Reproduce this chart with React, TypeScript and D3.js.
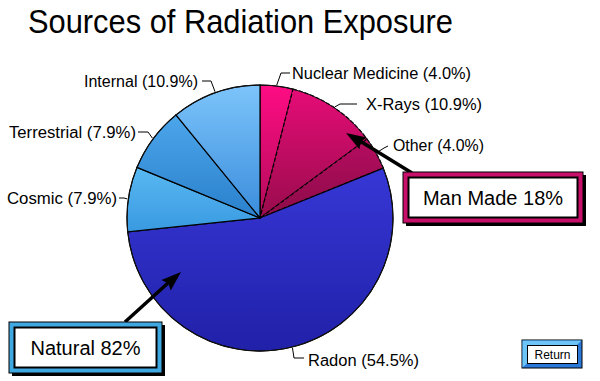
import React from "react";
import * as d3 from "d3";

const categories = [
  "Nuclear Medicine",
  "X-Rays",
  "Other",
  "Radon",
  "Cosmic",
  "Terrestrial",
  "Internal",
];
const values = [4.0, 10.9, 4.0, 54.5, 7.9, 7.9, 10.9];
const groups = ["man", "man", "man", "radon", "nat", "nat", "nat"];
const groupTitles = ["Man Made 18%", "Natural 82%"];
const title = "Sources of Radiation Exposure";

const W = 600;
const H = 381;
const cx = 260;
const cy = 218;
const R = 133;

// label layout: text position, anchor, elbow, end-of-leader near text
const labelLayout = [
  { x: 292, y: 73, anchor: "start", elbow: [281, 73], end: [290, 73] },
  { x: 366, y: 104, anchor: "start", elbow: [340, 104], end: [357, 104] },
  { x: 393, y: 145, anchor: "start", elbow: [384, 148], end: [388, 146] },
  { x: 308, y: 360, anchor: "start", elbow: [294, 358], end: [304, 358] },
  { x: 117, y: 198, anchor: "end", elbow: [124, 198], end: [119, 198] },
  { x: 136, y: 132, anchor: "end", elbow: [148, 132], end: [138, 132] },
  { x: 198, y: 81, anchor: "end", elbow: [211, 81], end: [202, 81] },
];
const labelWidths = [179, 116, 91, 111, 110, 127, 114];

// gradient stops per slice: [yTop, yBottom, colorTop, colorBottom] (page coords)
const sliceGradients: [number, number, string, string][] = [
  [85, 218, "#ff0c84", "#b00c58"],
  [85, 218, "#e80c78", "#980c4c"],
  [120, 218, "#c00c66", "#8c0c48"],
  [160, 353, "#3838d8", "#2020a8"],
  [160, 235, "#5cbcf4", "#3898e0"],
  [110, 218, "#4ea8ec", "#2a80cc"],
  [85, 218, "#7cc4fa", "#3a8cdc"],
];

export default function App() {
  const data = categories.map((c, i) => ({ name: c, value: values[i], group: groups[i] }));
  const pie = d3.pie<any>().sort(null).value((d) => d.value).startAngle(0).endAngle(2 * Math.PI);
  const arcs = pie(data);
  const arc = d3.arc<any>().innerRadius(0).outerRadius(R);
  const fmt = d3.format(".1f");
  const font = "'Liberation Sans', Arial, Helvetica, sans-serif";

  const edgePoint = (a: any, r: number) => {
    const m = (a.startAngle + a.endAngle) / 2;
    return [cx + r * Math.sin(m), cy - r * Math.cos(m)];
  };

  const arrowHead = (x1: number, y1: number, x2: number, y2: number, len: number, wid: number) => {
    const ang = Math.atan2(y2 - y1, x2 - x1);
    const bx = x2 - len * Math.cos(ang);
    const by = y2 - len * Math.sin(ang);
    const px = -Math.sin(ang) * wid / 2;
    const py = Math.cos(ang) * wid / 2;
    return `M${x2},${y2}L${bx + px},${by + py}L${bx + 3 * Math.cos(ang)},${by + 3 * Math.sin(ang)}L${bx - px},${by - py}Z`;
  };

  const box = (x0: number, y0: number, x1: number, y1: number, band: string, text: string) => (
    <g>
      <rect x={x0 + 3} y={y0 + 3} width={x1 - x0} height={y1 - y0} fill="#000" />
      <rect x={x0} y={y0} width={x1 - x0} height={y1 - y0} fill={band} stroke="#000" strokeWidth={1} />
      <rect x={x0 + 5.5} y={y0 + 5.5} width={x1 - x0 - 11} height={y1 - y0 - 11} fill="#fff" stroke="#000" strokeWidth={2} />
      <text
        x={(x0 + x1) / 2}
        y={(y0 + y1) / 2 + 7}
        textAnchor="middle"
        fontFamily={font}
        fontSize={20}
        fill="#000"
      >
        {text}
      </text>
    </g>
  );

  return (
    <svg
      width={W}
      height={H}
      viewBox={`0 0 ${W} ${H}`}
      style={{ position: "absolute", left: 0, top: 0, background: "#fff" }}
    >
      <defs>
        {sliceGradients.map((g, i) => (
          <linearGradient
            key={i}
            id={`gSlice${i}`}
            gradientUnits="userSpaceOnUse"
            x1={0}
            y1={g[0] - cy}
            x2={0}
            y2={g[1] - cy}
          >
            <stop offset="0" stopColor={g[2]} />
            <stop offset="1" stopColor={g[3]} />
          </linearGradient>
        ))}
      </defs>

      <text
        x={28}
        y={33}
        fontFamily={font}
        fontSize={33}
        textLength={425}
        lengthAdjust="spacingAndGlyphs"
        fill="#000"
      >
        {title}
      </text>

      <g transform={`translate(${cx},${cy})`}>
        {arcs.map((a, i) => (
          <path
            key={i}
            d={arc(a) as string}
            fill={`url(#gSlice${i})`}
            stroke="#000"
            strokeWidth={1.2}
            strokeDasharray={a.data.group === "man" && i > 0 ? "4,2" : undefined}
          />
        ))}
        <circle r={R} fill="none" stroke="#111" strokeWidth={1} />
      </g>

      {arcs.map((a, i) => {
        const L = labelLayout[i];
        const [ex, ey] = edgePoint(a, R + 1);
        return (
          <g key={i}>
            <polyline
              points={`${ex},${ey} ${L.elbow[0]},${L.elbow[1]} ${L.end[0]},${L.end[1]}`}
              fill="none"
              stroke="#000"
              strokeWidth={1}
            />
            <text
              x={L.x}
              y={L.y + 5.5}
              textAnchor={L.anchor as any}
              fontFamily={font}
              fontSize={16}
              textLength={labelWidths[i]}
              lengthAdjust="spacingAndGlyphs"
              fill="#000"
            >
              {`${a.data.name} (${fmt(a.data.value)}%)`}
            </text>
          </g>
        );
      })}

      {/* arrows */}
      <line x1={412} y1={173} x2={360} y2={141} stroke="#000" strokeWidth={3.5} />
      <path d={arrowHead(412, 173, 346, 133, 20, 14)} fill="#000" />
      <line x1={125} y1={322} x2={168} y2={283} stroke="#000" strokeWidth={3.5} />
      <path d={arrowHead(125, 322, 181, 272, 20, 14)} fill="#000" />

      {box(403, 172, 583, 223, "#c8106a", groupTitles[0])}
      {box(9, 322, 162, 373, "#40a8e0", groupTitles[1])}

      {/* Return button */}
      <g>
        <rect x={522} y={340} width={60} height={28} fill="#2a78d8" stroke="#000" strokeWidth={1} />
        <path d="M522.5,340.5 L581.5,340.5 L577,345 L527,345 L527,363.5 L522.5,367.5 Z" fill="#6cc4f8" />
        <rect x={527.5} y={345.5} width={50} height={18} fill="#fff" stroke="#000" strokeWidth={1} />
        <text x={552.5} y={359} textAnchor="middle" fontFamily={font} fontSize={12} fill="#000">
          Return
        </text>
      </g>
    </svg>
  );
}
